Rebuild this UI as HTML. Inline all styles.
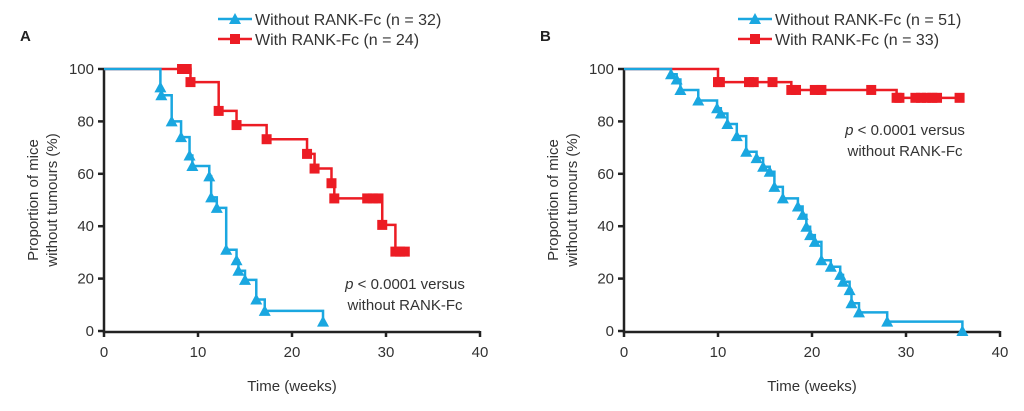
<!DOCTYPE html>
<html><head><meta charset="utf-8">
<style>
body{margin:0;background:#fff;}
svg{display:block;font-family:"Liberation Sans",Arial,sans-serif;}
</style></head>
<body>
<svg id="chart" width="1024" height="411" viewBox="0 0 1024 411" xmlns="http://www.w3.org/2000/svg"></svg>
<script>
// Panel A data (time weeks, % survival after step)
const aBlueT = [6.0,6.1,7.2,8.2,9.1,9.4,11.2,11.4,12.0,13.0,14.1,14.3,15.0,16.2,17.1,23.3];
const aBlueV = [93,90,80,74,67,63,59,51,47,31,27,23,19.5,12,7.7,3.6];
const aRedT = [8.3,8.8,9.2,12.2,14.1,17.3,21.6,22.4,24.2,24.5,28.0,28.6,29.2,29.6,31.0,31.5,32.0];
const aRedV = [100,100,95,84,78.6,73.2,67.6,62,56.4,50.6,50.6,50.6,50.6,40.5,30.3,30.3,30.3];
// Panel B data
const bBlueT = [5.0,5.6,6.0,7.9,9.9,10.3,11.0,12.0,13.0,14.1,14.8,15.5,16.0,16.9,18.5,19.0,19.4,19.8,20.3,21.0,22.0,23.0,23.3,24.0,24.2,25.0,28.0,36.0];
const bBlueV = [98,96,92,88,85,83,79,74.4,68.4,66,62.7,60.8,55,50.6,47.5,44.3,39.8,36.6,34,27,24.5,21.4,18.8,15.6,10.6,7.1,3.6,0];
const bRedT = [10.0,10.2,13.3,13.8,15.8,17.8,18.3,20.3,21.0,26.3,29.0,29.3,31.0,31.6,32.2,32.8,33.3,35.7];
const bRedV = [95,95,95,95,95,92,92,92,92,92,89,89,89,89,89,89,89,89];
const xTicks = [0,10,20,30,40];
const yTicks = [0,20,40,60,80,100];

const NS = "http://www.w3.org/2000/svg";
const svg = document.getElementById('chart');
function el(tag, attrs, parent){const e=document.createElementNS(NS,tag);for(const k in attrs)e.setAttribute(k,attrs[k]);(parent||svg).appendChild(e);return e;}
const BLUE="#1aa7e0", RED="#ec1c24";

function tri(g,x,y){return el('polygon',{points:`${x-6},${y+5} ${x+6},${y+5} ${x},${y-6}`,fill:BLUE},g);}
function sq(g,x,y){return el('rect',{x:x-5,y:y-5,width:10,height:10,fill:RED},g);}

function panel(id,x0,x40,letter,lx,blueT,blueV,redT,redV,nb,nr,legX,pX,pY){
  const y0=331,y100=69;
  const sx=t=>x0+(x40-x0)*t/40, sy=v=>y0-(y0-y100)*v/100;
  const g=el('g',{});
  
  
  const L=el('text',{x:lx,y:41,'font-size':15,'font-weight':'bold',fill:'#222'},g);L.textContent=letter;
  
  // axes
  const ax=el('path',{d:`M${x0},${y100} V${y0+1} H${x40}`,stroke:'#222','stroke-width':2.5,fill:'none'},g);
  
  xTicks.forEach(t=>{el('line',{x1:sx(t),x2:sx(t),y1:y0,y2:y0+6,stroke:'#222','stroke-width':2.5},g);
    const tx=el('text',{x:sx(t),y:y0+26,'font-size':15,'text-anchor':'middle',fill:'#333'},g);tx.textContent=t;
    });
  yTicks.forEach(v=>{el('line',{x1:x0-6,x2:x0,y1:sy(v),y2:sy(v),stroke:'#222','stroke-width':2.5},g);
    const tx=el('text',{x:x0-10,y:sy(v)+5,'font-size':15,'text-anchor':'end',fill:'#333'},g);tx.textContent=v;
    });
  const xt=el('text',{x:(x0+x40)/2,y:391,'font-size':15,'text-anchor':'middle',fill:'#333'},g);xt.textContent='Time (weeks)';
  
  const yt=el('text',{transform:`translate(${x0-64},${(y0+y100)/2}) rotate(-90)`,'font-size':15,'text-anchor':'middle',fill:'#333'},g);
  
  const t1=el('tspan',{x:0,dy:-2},yt);t1.textContent='Proportion of mice';
  const t2=el('tspan',{x:0,dy:19},yt);t2.textContent='without tumours (%)';
  function series(T,V,col,mk,name){
    let d=`M${sx(0)},${sy(100)}`;let prev=100;
    T.forEach((t,i)=>{d+=` H${sx(t)} V${sy(V[i])}`;prev=V[i];});
    const p=el('path',{d:d,stroke:col,'stroke-width':2.5,fill:'none'},g);
    
    T.forEach((t,i)=>{const m=mk(g,sx(t),sy(V[i]));
      });
  }
  series(redT,redV,RED,sq,'with-rank-fc-'+id);
  series(blueT,blueV,BLUE,tri,'without-rank-fc-'+id);
  // legend
  el('line',{x1:legX,x2:legX+34,y1:19,y2:19,stroke:BLUE,'stroke-width':2.5},g);tri(g,legX+17,19);
  const l1=el('text',{x:legX+37,y:25,'font-size':16,fill:'#333'},g);l1.textContent=`Without RANK-Fc (n = ${nb})`;
  
  el('line',{x1:legX,x2:legX+34,y1:39,y2:39,stroke:RED,'stroke-width':2.5},g);sq(g,legX+17,39);
  const l2=el('text',{x:legX+37,y:45,'font-size':16,fill:'#333'},g);l2.textContent=`With RANK-Fc (n = ${nr})`;
  
  const pt=el('text',{x:pX,y:pY,'font-size':15,'text-anchor':'middle',fill:'#333'},g);
  
  const a=el('tspan',{'font-style':'italic'},pt);a.textContent='p';
  const b=el('tspan',{},pt);b.textContent=' < 0.0001 versus';
  const c=el('text',{x:pX,y:pY+21,'font-size':15,'text-anchor':'middle',fill:'#333'},g);c.textContent='without RANK-Fc';
}
panel('a',104,480,'A',20,aBlueT,aBlueV,aRedT,aRedV,32,24,218,405,289);
panel('b',624,1000,'B',540,bBlueT,bBlueV,bRedT,bRedV,51,33,738,905,135);
</script>
</body></html>
